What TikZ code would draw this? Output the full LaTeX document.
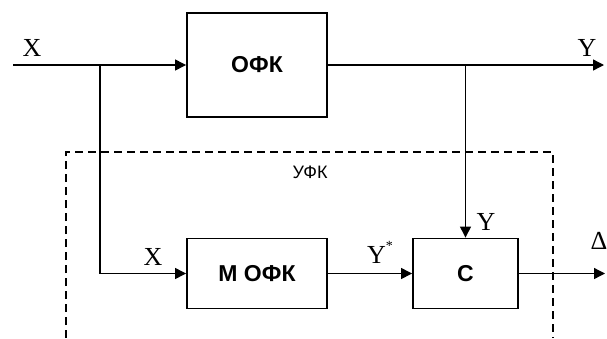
\documentclass[tikz,border=0pt]{standalone}
\usepackage{fontspec}
\setmainfont{Liberation Serif}
\newfontfamily\sansf{Liberation Sans}
\usetikzlibrary{arrows.meta}
\tikzset{
  blk/.style={draw, line width=1.9pt, inner sep=0pt, font=\sansf\bfseries\fontsize{23}{26}\selectfont},
  conn/.style={line width=1.3pt, -{Triangle[length=11pt,width=11pt]}},
  wire/.style={line width=1.3pt},
  lbl/.style={inner sep=0pt, font=\fontsize{26}{30}\selectfont},
  frame/.style={line width=1.1pt, dash pattern=on 8pt off 5pt},
}
\begin{document}
\begin{tikzpicture}[x=1pt,y=-1pt]
\useasboundingbox (0,0) rectangle (607,338);
% dashed frame
\draw[frame] (66,338) -- (66,152) -- (553,152) -- (553,338);
\node[inner sep=0pt, font=\sansf\fontsize{18}{20}\selectfont] (ufk) at (310,172) {УФК};
% blocks
\node[blk, minimum width=140pt, minimum height=104pt] (ofk) at (257,65) {ОФК};
\node[blk, minimum width=140pt, minimum height=70pt] (mofk) at (257,273.5) {М ОФК};
\node[blk, minimum width=105pt, minimum height=70pt] (c) at (465.5,273.5) {С};
% coordinates
\coordinate (in) at (13,65);
\coordinate (b1) at (100,65);
\coordinate (b1d) at (100,273.5);
\coordinate (b2) at (465.5,65);
\coordinate (out) at (604,65);
\coordinate (out2) at (605,273.5);
% connectors
\draw[conn] (in) -- (ofk.west);
\draw[conn] (ofk.east) -- (out);
\draw[wire] (b1) -- (b1d);
\draw[conn] (b1d) -- (mofk.west);
\draw[conn] (b2) -- (c.north);
\draw[conn] (mofk.east) -- (c.west);
\draw[conn] (c.east) -- (out2);
% labels
\node[lbl] (xa) at (32,48) {X};
\node[lbl] (ya) at (587,48) {Y};
\node[lbl] (xb) at (153,257) {X};
\node[lbl] (yc) at (486,222) {Y};
\node[lbl, anchor=center] (ys) at (380,252) {Y\raisebox{0.5em}{\fontsize{14}{15}\selectfont *}};
\node[lbl] (d) at (599,241) {Δ};
\end{tikzpicture}
\end{document}
